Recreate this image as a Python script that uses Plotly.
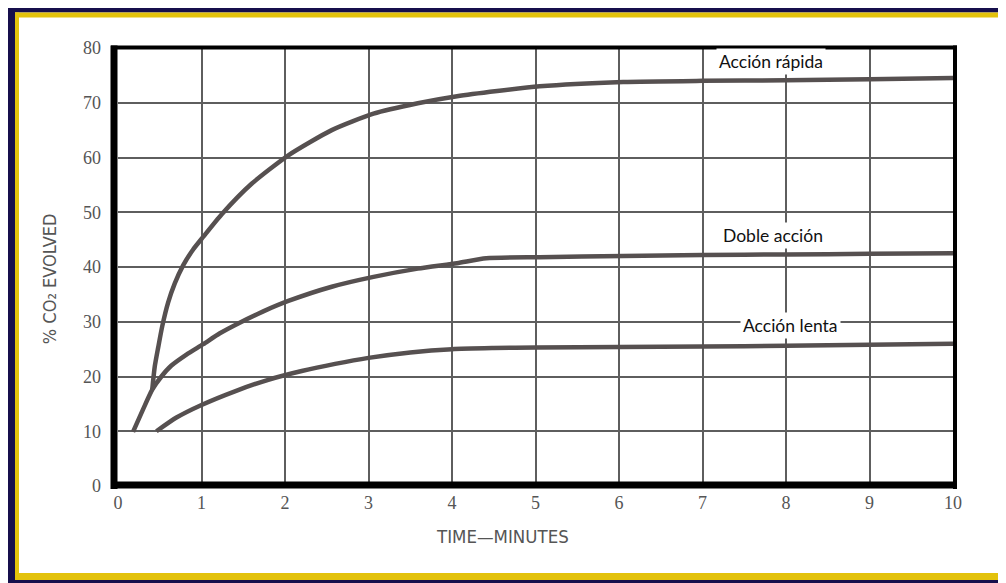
import plotly.graph_objects as go

# ---------------- data ----------------
t_rapida = [0.41, 0.44, 0.48, 0.53, 0.60, 0.68, 0.78, 0.90, 1.02, 1.24, 1.6, 2.04, 2.56, 3.06, 3.59, 4.06, 5.05, 6.05, 7.0, 8.0, 9.0, 10.0]
v_rapida = [17.6, 21.8, 25.2, 29.2, 33.5, 37.0, 40.3, 43.2, 45.5, 49.6, 55.2, 60.4, 65.0, 68.0, 69.9, 71.2, 73.0, 73.8, 74.0, 74.1, 74.3, 74.5]

t_doble = [0.18, 0.30, 0.41, 0.52, 0.64, 0.82, 1.02, 1.22, 1.44, 1.74, 2.04, 2.56, 3.06, 3.59, 4.06, 4.41, 5.05, 6.05, 7.0, 8.0, 9.0, 10.0]
v_doble = [9.9, 14.0, 17.6, 20.0, 22.0, 24.0, 25.9, 27.9, 29.7, 31.9, 33.8, 36.4, 38.2, 39.7, 40.7, 41.6, 41.8, 42.0, 42.2, 42.3, 42.4, 42.5]

t_lenta = [0.46, 0.7, 1.0, 1.4, 1.8, 2.2, 2.6, 3.0, 3.5, 4.0, 4.5, 5.0, 6.0, 7.0, 8.0, 9.0, 10.0]
v_lenta = [10.0, 12.5, 14.8, 17.3, 19.4, 21.0, 22.3, 23.4, 24.4, 25.0, 25.2, 25.3, 25.4, 25.5, 25.6, 25.8, 26.0]

x_ticks = [0, 1, 2, 3, 4, 5, 6, 7, 8, 9, 10]
y_ticks = [0, 10, 20, 30, 40, 50, 60, 70, 80]

labels = ["Acción rápida", "Doble acción", "Acción lenta"]
label_x = [7.82, 7.84, 8.05]
label_y = [77.6, 45.7, 29.3]

# ---------------- layout geometry ----------------
# The page body adds an 8px margin, so the figure is 8px smaller and all
# reference pixel positions are shifted by -8.
OFF = 8
W, H = 1006 - OFF, 583 - OFF
L, R, T, B = 118 - OFF, 953 - OFF, 47.6 - OFF, 486 - OFF


def px(x):
    return (x - OFF - L) / (R - L)


def py(y):
    return (B - (y - OFF)) / (B - T)


CURVE = "#565050"
GRID = "#5e5e5e"

fig = go.Figure()
for t, v in [(t_rapida, v_rapida), (t_doble, v_doble), (t_lenta, v_lenta)]:
    fig.add_trace(go.Scatter(x=t, y=v, mode="lines",
                             line=dict(color=CURVE, width=4.5, shape="spline", smoothing=0.6),
                             showlegend=False, hoverinfo="skip"))

shapes = []
# frame
shapes.append(dict(type="line", xref="paper", yref="paper", x0=px(114), x1=px(114), y0=py(45), y1=py(489),
                   line=dict(color="black", width=7)))
shapes.append(dict(type="line", xref="paper", yref="paper", x0=px(111), x1=px(957), y0=py(485), y1=py(485),
                   line=dict(color="black", width=7)))
shapes.append(dict(type="line", xref="paper", yref="paper", x0=px(111), x1=px(957), y0=py(47), y1=py(47),
                   line=dict(color="black", width=4)))
shapes.append(dict(type="line", xref="paper", yref="paper", x0=px(955), x1=px(955), y0=py(45), y1=py(489),
                   line=dict(color="black", width=4)))
# decorative borders (navy + gold)
NAVY = "#160f4c"
GOLD = "#e3c20c"
shapes += [
    dict(type="rect", xref="paper", yref="paper", x0=px(8), x1=px(1006), y0=py(4), y1=py(12),
         fillcolor=NAVY, line=dict(width=0), layer="above"),
    dict(type="rect", xref="paper", yref="paper", x0=px(15), x1=px(1006), y0=py(12), y1=py(17),
         fillcolor=GOLD, line=dict(width=0), layer="above"),
    dict(type="rect", xref="paper", yref="paper", x0=px(8), x1=px(15), y0=py(4), y1=py(583),
         fillcolor=NAVY, line=dict(width=0), layer="above"),
    dict(type="rect", xref="paper", yref="paper", x0=px(15), x1=px(19), y0=py(12), y1=py(580),
         fillcolor=GOLD, line=dict(width=0), layer="above"),
    dict(type="rect", xref="paper", yref="paper", x0=px(15), x1=px(1006), y0=py(573), y1=py(580),
         fillcolor=GOLD, line=dict(width=0), layer="above"),
    dict(type="rect", xref="paper", yref="paper", x0=px(8), x1=px(1006), y0=py(580), y1=py(583),
         fillcolor=NAVY, line=dict(width=0), layer="above"),
]

annotations = []
for txt, ax, ay in zip(labels, label_x, label_y):
    annotations.append(dict(x=ax, y=ay, xref="x", yref="y", text=txt, showarrow=False,
                            xanchor="center", yanchor="middle",
                            font=dict(family="Lato, Open Sans, sans-serif", size=17.5, color="#111111"),
                            bgcolor="white", borderpad=2))
annotations.append(dict(x=px(502), y=py(537), xref="paper", yref="paper", text="TIME\u2014MINUTES",
                        showarrow=False, xanchor="center", yanchor="middle",
                        font=dict(family="Liberation Sans Narrow, DejaVu Sans Condensed, Liberation Sans",
                                  size=18.5, color="#555555")))
annotations.append(dict(x=px(49), y=py(279), xref="paper", yref="paper", text="% CO\u2082 EVOLVED",
                        showarrow=False, textangle=-90, xanchor="center", yanchor="middle",
                        font=dict(family="Liberation Sans Narrow, DejaVu Sans Condensed, Liberation Sans",
                                  size=18, color="#555555")))

tickfont = dict(family="Liberation Serif, DejaVu Serif, serif", size=18, color="#555555")

fig.update_layout(
    width=W, height=H,
    margin=dict(l=L, r=W - R, t=T, b=H - B, pad=0),
    paper_bgcolor="white", plot_bgcolor="white",
    shapes=shapes, annotations=annotations,
    xaxis=dict(range=[0, 10], tickvals=x_ticks, ticktext=[str(v) for v in x_ticks],
               showgrid=True, gridcolor=GRID, gridwidth=1.5, zeroline=False, showline=False,
               ticks="", tickfont=tickfont, ticklabelstandoff=4, fixedrange=True),
    yaxis=dict(range=[0, 80], tickvals=y_ticks, ticktext=[str(v) for v in y_ticks],
               showgrid=True, gridcolor=GRID, gridwidth=1.5, zeroline=False, showline=False,
               ticks="", tickfont=tickfont, ticklabelstandoff=16, fixedrange=True),
)

fig.write_html("out.html")
